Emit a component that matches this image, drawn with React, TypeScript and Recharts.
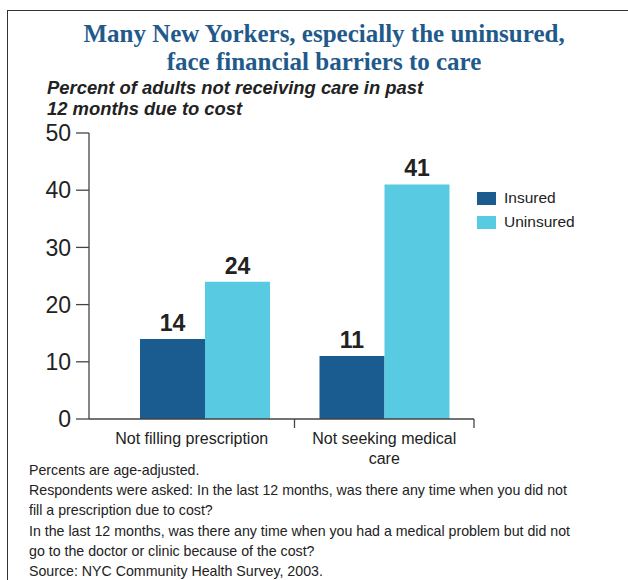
import { Bar, BarChart, LabelList, XAxis, YAxis } from "recharts"

const categories = ["Not filling prescription", "Not seeking medical care"]
const insured = [14, 11]
const uninsured = [24, 41]
const yTicks = [0, 10, 20, 30, 40, 50]

const notes = [
  "Percents are age-adjusted.",
  "Respondents were asked: In the last 12 months, was there any time when you did not",
  "fill a prescription due to cost?",
  "In the last 12 months, was there any time when you had a medical problem but did not",
  "go to the doctor or clinic because of the cost?",
  "Source: NYC Community Health Survey, 2003.",
]

const data = categories.map((name, i) => ({
  name,
  Insured: insured[i],
  Uninsured: uninsured[i],
}))

const INSURED = "#1a5c8f"
const UNINSURED = "#58cae2"
const AXIS = "#444"
const SANS = "'Liberation Sans', Arial, Helvetica, sans-serif"
const PLOT_LEFT = 89

// x ticks sit on the category boundaries, labels centred on each segment
const CategoryTick = (props: any) => {
  const { x, y, payload, index } = props
  const half = payload.offset || 0
  const right = x + half
  const left = index === 0 ? PLOT_LEFT : x - half
  const mid = (left + right) / 2
  const words = String(payload.value).split(" ")
  const lines = index === 0 ? [payload.value] : [words.slice(0, 3).join(" "), words.slice(3).join(" ")]
  return (
    <g>
      <line x1={right} x2={right} y1={y - 8} y2={y + 1} stroke={AXIS} strokeWidth={1.3} />
      <text x={mid} y={y + 17} textAnchor="middle" fontSize={16} fill="#222" fontFamily={SANS}>
        {lines.map((l: string, i: number) => (
          <tspan key={i} x={mid} dy={i === 0 ? 0 : 20}>
            {l}
          </tspan>
        ))}
      </text>
    </g>
  )
}

const legendItems = [
  ["Insured", INSURED],
  ["Uninsured", UNINSURED],
]

export default function App() {
  return (
    <div style={{ position: "absolute", left: 0, top: 0, width: 628, height: 580, background: "#fff", overflow: "hidden" }}>
      <div style={{ position: "absolute", left: 7, top: 10, width: 640, height: 600, borderTop: "1.5px solid #333", borderLeft: "1.5px solid #333" }} />
      <div
        style={{
          position: "absolute",
          left: 0,
          top: 20,
          width: 648,
          textAlign: "center",
          fontFamily: "'Liberation Serif', 'Times New Roman', serif",
          fontWeight: "bold",
          fontSize: 25,
          lineHeight: "28px",
          color: "#1f5a8b",
        }}
      >
        Many New Yorkers, especially the uninsured,
        <br />
        face financial barriers to care
      </div>
      <div
        style={{
          position: "absolute",
          left: 47,
          top: 77,
          fontFamily: SANS,
          fontWeight: "bold",
          fontStyle: "italic",
          fontSize: 18.4,
          lineHeight: "21px",
          color: "#222",
        }}
      >
        Percent of adults not receiving care in past
        <br />
        12 months due to cost
      </div>
      <div style={{ position: "absolute", left: 0, top: 0 }}>
        <BarChart
          width={628}
          height={580}
          data={data}
          margin={{ top: 133, right: 154, bottom: 121, left: 0 }}
          barCategoryGap={25}
          barGap={0}
        >
          <XAxis
            dataKey="name"
            padding={{ left: 26, right: 0 }}
            axisLine={{ stroke: AXIS, strokeWidth: 1.3 }}
            tickLine={false}
            tick={<CategoryTick />}
            interval={0}
            height={40}
          />
          <YAxis
            domain={[0, 50]}
            ticks={yTicks}
            width={PLOT_LEFT}
            axisLine={{ stroke: AXIS, strokeWidth: 1.3 }}
            tickLine={{ stroke: AXIS, strokeWidth: 1.3 }}
            tickSize={13}
            tickMargin={5}
            tick={{ fontSize: 23, fill: "#222", fontFamily: SANS }}
          />
          <Bar dataKey="Insured" fill={INSURED} isAnimationActive={false}>
            <LabelList dataKey="Insured" position="top" offset={8} fontSize={23} fontWeight="bold" fill="#222" fontFamily={SANS} />
          </Bar>
          <Bar dataKey="Uninsured" fill={UNINSURED} isAnimationActive={false}>
            <LabelList dataKey="Uninsured" position="top" offset={8} fontSize={23} fontWeight="bold" fill="#222" fontFamily={SANS} />
          </Bar>
        </BarChart>
      </div>
      <div style={{ position: "absolute", left: 477, top: 186, fontFamily: SANS, fontSize: 15.5, color: "#222" }}>
        {legendItems.map(([label, color]) => (
          <div key={label} style={{ display: "flex", alignItems: "center", height: 24 }}>
            <span style={{ width: 19, height: 13, background: color, marginRight: 8 }} />
            {label}
          </div>
        ))}
      </div>
      <div
        style={{
          position: "absolute",
          left: 29,
          top: 460,
          fontFamily: SANS,
          fontSize: 14.2,
          lineHeight: "20.2px",
          color: "#222",
          whiteSpace: "nowrap",
        }}
      >
        {notes.map((n) => (
          <div key={n}>{n}</div>
        ))}
      </div>
    </div>
  )
}
